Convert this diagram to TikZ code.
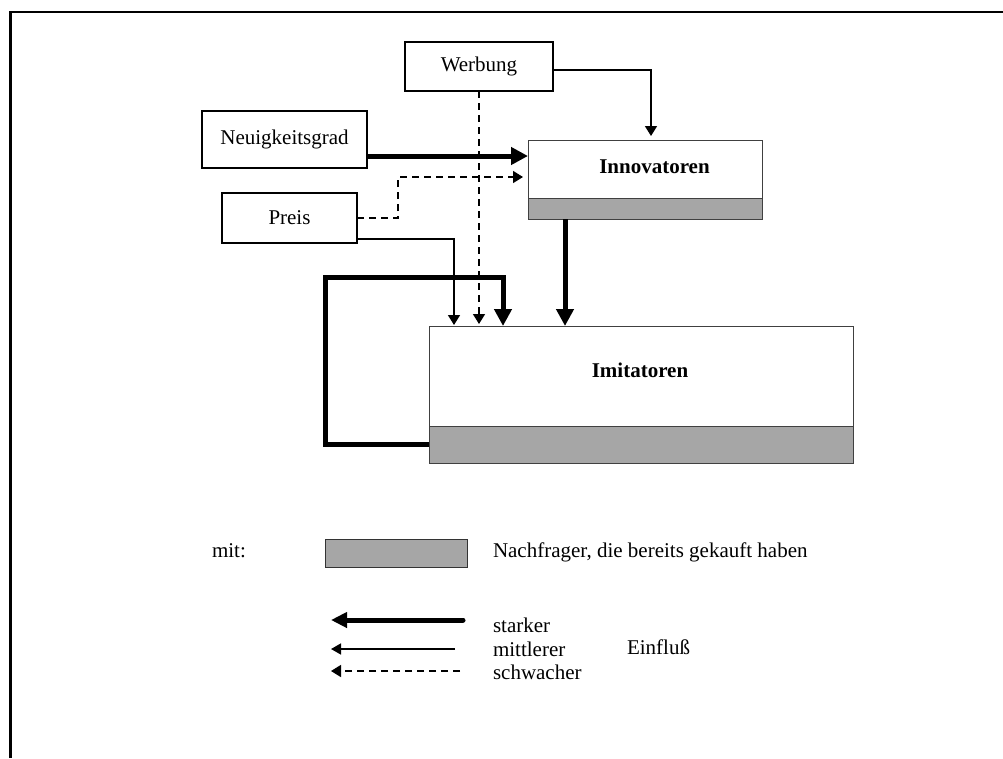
\documentclass[tikz,border=0pt]{standalone}
\usepackage{fontspec}
\setmainfont{Liberation Serif}
\usetikzlibrary{arrows.meta}
\definecolor{bandgray}{RGB}{166,166,166}
\begin{document}
\begin{tikzpicture}[x=1pt,y=-1pt,
  every node/.style={font=\fontsize{21}{23.5}\selectfont},
  srcbox/.style={draw, line width=1.5pt, inner sep=0pt, outer sep=0pt},
  grpbox/.style={draw=black!75, line width=1pt, inner sep=0pt, outer sep=0pt, fill=white},
  band/.style={draw=black!75, line width=1pt, fill=bandgray, inner sep=0pt, outer sep=0pt},
  txt/.style={inner sep=0pt, outer sep=0pt},
  boldtxt/.style={inner sep=0pt, outer sep=0pt, font=\fontsize{21}{23.5}\selectfont\bfseries},
  strong/.style={line width=5pt, -{Triangle[length=17pt,width=17pt]}},
  medium/.style={line width=1.5pt, -{Triangle[length=10pt,width=12pt]}},
  weak/.style={line width=1.5pt, dash pattern=on 7pt off 5pt, -{Triangle[length=10pt,width=12pt]}},
]
\useasboundingbox (0,0) rectangle (1003,758);
% frame
\draw[line width=2.7pt] (10.5,758) -- (10.5,12) -- (1003,12);

% source boxes
\node[srcbox, minimum width=148pt, minimum height=49pt] (werb) at (479,66.5) {Werbung};
\node[srcbox, minimum width=165pt, minimum height=57pt] (neu) at (284.5,139.5) {Neuigkeitsgrad};
\node[srcbox, minimum width=135pt, minimum height=50pt] (preis) at (289.5,218) {Preis};

% Innovatoren
\node[grpbox, minimum width=234pt, minimum height=58pt] (inno) at (645,169) {};
\node[band, minimum width=234pt, minimum height=21pt, anchor=north] (innob) at (inno.south) {};
\node[boldtxt, anchor=base] (innot) at (654.5,173) {Innovatoren};

% Imitatoren
\node[grpbox, minimum width=424pt, minimum height=100pt] (imi) at (641,376) {};
\node[band, minimum width=424pt, minimum height=37pt, anchor=north] (imib) at (imi.south) {};
\node[boldtxt, anchor=base] (imit) at (640,377) {Imitatoren};

% connectors
\draw[strong] ([yshift=-16.5pt]neu.east) -- ([yshift=-16.5pt]neu.east -| inno.west);
\draw[weak, shorten >=5pt] (preis.east) -- ++(41,0) |- ([yshift=-8pt]inno.west);
\draw[medium, shorten >=4pt] ([yshift=-3.5pt]werb.east) -| ([xshift=6pt]inno.north);
\draw[weak, shorten >=2pt] (werb.south) -- (werb.south |- imi.north);
\draw[medium, shorten >=1pt] ([yshift=-21pt]preis.east) -| ([xshift=25pt]imi.north west);
\coordinate (fb) at (325,277);
\draw[strong] (imib.west) -| (fb) -| ([xshift=74pt]imi.north west);
\draw[strong] ([xshift=-80pt]innob.south) -- ([xshift=-80pt]innob.south |- imi.north);

% legend
\node[txt, anchor=base west] (mit) at (212,557) {mit:};
\node[band, draw=black!80, minimum width=142pt, minimum height=28pt] (leg) at (396,553) {};
\node[txt, anchor=base west] (nach) at (493,557) {Nachfrager, die bereits gekauft haben};
\node[txt, anchor=base west] (stark) at (493,632) {starker};
\node[txt, anchor=base west] (mittl) at (493,656) {mittlerer};
\node[txt, anchor=base west] (schw) at (493,679) {schwacher};
\node[txt, anchor=base west] (einfl) at (627,654) {Einflu\ss};

\coordinate (s1a) at (463,620); \coordinate (s1b) at (331,620);
\coordinate (s2a) at (455,649); \coordinate (s2b) at (331,649);
\coordinate (s3a) at (460,671); \coordinate (s3b) at (331,671);
\draw[line width=5pt, line cap=round, -{Triangle[length=16pt,width=15pt]}] (s1a) -- (s1b);
\draw[line width=1.5pt, -{Triangle[length=10pt,width=11pt]}] (s2a) -- (s2b);
\draw[weak] (s3a) -- (s3b);
\end{tikzpicture}
\end{document}
